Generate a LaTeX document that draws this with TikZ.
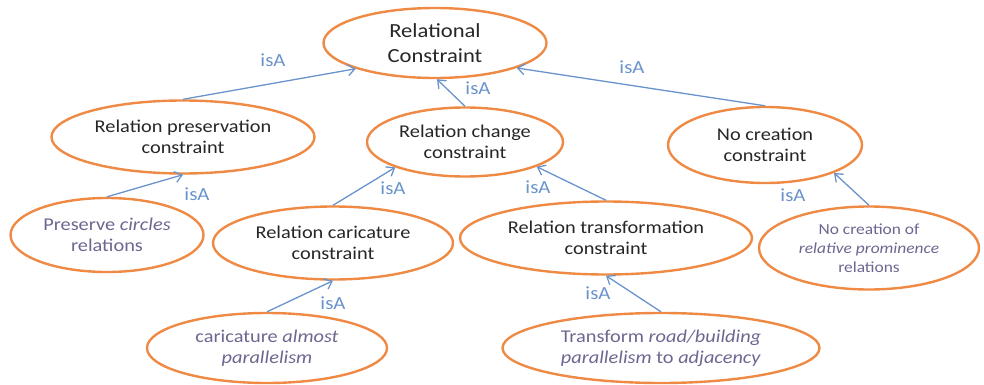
\documentclass[tikz,border=0pt]{standalone}
\usepackage{fontspec}
\setmainfont[FakeStretch=1.13]{Carlito}
\usetikzlibrary{shapes.geometric,arrows.meta}
\definecolor{ellorange}{HTML}{EE8A44}
\definecolor{arrblue}{HTML}{6A93CC}
\definecolor{txtdark}{HTML}{262626}
\definecolor{txtpurple}{HTML}{6E6690}
\tikzset{
  ell/.style={ellipse, draw=ellorange, line width=2.4pt, inner sep=0pt, text=txtdark, align=center,
    font=\fontsize{18}{21}\selectfont},
  leaf/.style={ell, text=txtpurple},
  isa/.style={-{Straight Barb[length=7pt,width=11pt]}, draw=arrblue, line width=1.3pt},
  lbl/.style={text=arrblue, font=\fontsize{18.5}{20}\selectfont, inner sep=0pt}
}
\begin{document}
\begin{tikzpicture}[x=1pt,y=-1pt]
\useasboundingbox (0,0) rectangle (984,385);
% nodes
\node[ell, minimum width=223pt, minimum height=70pt, font=\fontsize{20}{25}\selectfont] (rc) at (435,43) {Relational\\Constraint};
\node[ell, minimum width=263pt, minimum height=73pt] (rp) at (183,137) {Relation preservation\\constraint};
\node[ell, minimum width=196pt, minimum height=69pt] (rch) at (465,142) {Relation change\\constraint};
\node[ell, minimum width=194pt, minimum height=76pt] (nc) at (765,145) {No creation\\constraint};
\node[leaf, minimum width=193pt, minimum height=74pt] (pc) at (107,235) {Preserve \textit{circles}\\relations};
\node[ell, minimum width=240pt, minimum height=73pt] (rca) at (333,243) {Relation caricature\\constraint};
\node[ell, minimum width=292pt, minimum height=73pt] (rt) at (606,238) {Relation transformation\\constraint};
\node[leaf, minimum width=220pt, minimum height=83pt, font=\fontsize{15.4}{19}\selectfont] (ncp) at (869,248) {No creation of\\\textit{relative prominence}\\relations};
\node[leaf, minimum width=240pt, minimum height=70pt] (cap) at (267,348) {caricature \textit{almost}\\\textit{parallelism}};
\node[leaf, minimum width=317pt, minimum height=70pt] (tr) at (661,348) {Transform \textit{road/building}\\\textit{parallelism} to \textit{adjacency}};
% connectors
\draw[isa] (rp.north) -- (rc.198);
\draw[isa] (rch.north) -- (rc.273);
\draw[isa] (nc.north) -- (rc.343);
\draw[isa] (pc.north) -- (rp.south);
\draw[isa] (rca.north) -- (rch.200);
\draw[isa] (rt.north) -- (rch.341);
\draw[isa] (ncp.north) -- (nc.338);
\draw[isa] (cap.north) -- (rca.south);
\draw[isa] (tr.north) -- (rt.south);
% labels
\node[lbl] (l1) at (273,60) {isA};
\node[lbl] (l2) at (478,88) {isA};
\node[lbl] (l3) at (632,67) {isA};
\node[lbl] (l4) at (197,194) {isA};
\node[lbl] (l5) at (393,188) {isA};
\node[lbl] (l6) at (538,187) {isA};
\node[lbl] (l7) at (793,195) {isA};
\node[lbl] (l8) at (333,303) {isA};
\node[lbl] (l9) at (598,293) {isA};
\end{tikzpicture}
\end{document}
